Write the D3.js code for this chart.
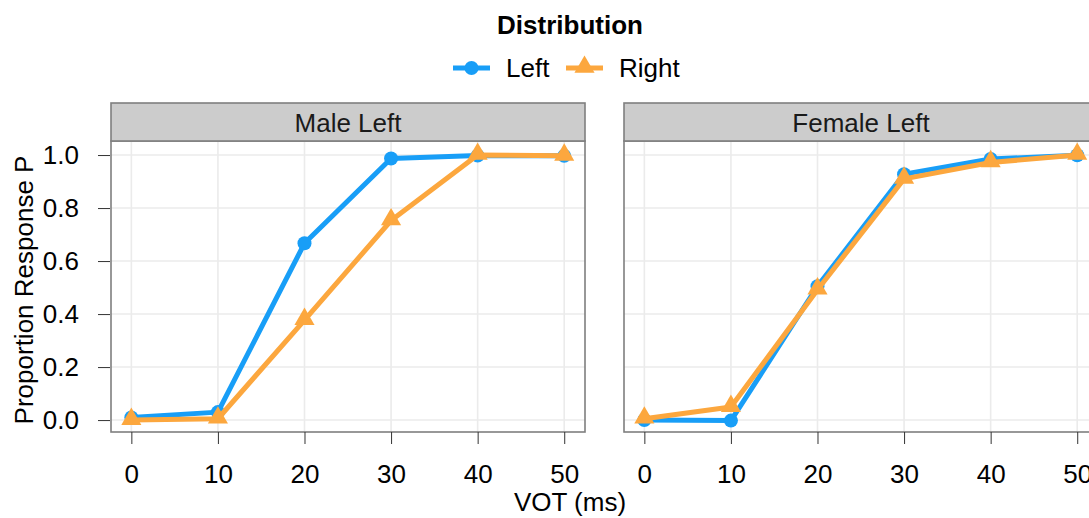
<!DOCTYPE html>
<html>
<head>
<meta charset="utf-8">
<script src="https://cdn.jsdelivr.net/npm/d3@7"></script>
<style>
  body { margin: 0; background: #fff; }
  svg { display: block; font-family: "Liberation Sans", Arial, sans-serif; }
</style>
</head>
<body>
<svg id="chart" width="1089" height="518"></svg>
<script>
// data
const vot = [0, 10, 20, 30, 40, 50];
const panels = ["Male Left", "Female Left"];
const seriesNames = ["Left", "Right"];
const maleLeftDist = [0.01, 0.03, 0.667, 0.987, 0.998, 0.997];
const maleRightDist = [0.0, 0.005, 0.377, 0.753, 1.0, 0.997];
const femaleLeftDist = [0.0, -0.002, 0.505, 0.928, 0.985, 0.999];
const femaleRightDist = [0.005, 0.049, 0.492, 0.91, 0.972, 1.0];
const yTicks = [0, 0.2, 0.4, 0.6, 0.8, 1.0];

const panelValues = [
    [maleLeftDist, maleRightDist],
    [femaleLeftDist, femaleRightDist]
];
const colors = ["#189ef7", "#fca73e"];
const fontSize = 26;

const svg = d3.select("#chart");

const panelW = 474, panelTop = 141, panelBottom = 432, stripTop = 103;
const panelLefts = [111, 624];

const y = d3.scaleLinear().domain([-0.045, 1.053]).range([panelBottom, panelTop]);

const triangle = d3.symbol().type(d3.symbolTriangle).size(175);

panels.forEach((name, pi) => {
    const left = panelLefts[pi];
    const x = d3.scaleLinear().domain([-2.35, 52.4]).range([left, left + panelW]);
    const g = svg.append("g");

    // grid
    g.selectAll(".gx").data(vot).enter().append("line")
        .attr("x1", d => x(d)).attr("x2", d => x(d))
        .attr("y1", panelTop).attr("y2", panelBottom)
        .attr("stroke", "#ebebeb").attr("stroke-width", 1.6);
    g.selectAll(".gy").data(yTicks).enter().append("line")
        .attr("x1", left).attr("x2", left + panelW)
        .attr("y1", d => y(d)).attr("y2", d => y(d))
        .attr("stroke", "#ebebeb").attr("stroke-width", 1.6);

    // series
    panelValues[pi].forEach((vals, si) => {
        const pts = vot.map((v, i) => [v, vals[i]]);
        g.append("path")
            .datum(pts)
            .attr("fill", "none")
            .attr("stroke", colors[si])
            .attr("stroke-width", 5)
            .attr("stroke-linejoin", "round")
            .attr("d", d3.line().x(d => x(d[0])).y(d => y(d[1])));
        if (si === 0) {
            g.selectAll(".pt" + si).data(pts).enter().append("circle")
                .attr("cx", d => x(d[0])).attr("cy", d => y(d[1]))
                .attr("r", 7).attr("fill", colors[si]);
        } else {
            g.selectAll(".pt" + si).data(pts).enter().append("path")
                .attr("d", triangle)
                .attr("transform", d => `translate(${x(d[0])},${y(d[1]) - 1})`)
                .attr("fill", colors[si]);
        }
    });

    // panel border
    g.append("rect")
        .attr("x", left).attr("y", panelTop)
        .attr("width", panelW).attr("height", panelBottom - panelTop)
        .attr("fill", "none").attr("stroke", "#7f7f7f").attr("stroke-width", 1.6);

    // strip
    g.append("rect")
        .attr("x", left).attr("y", stripTop)
        .attr("width", panelW).attr("height", panelTop - stripTop)
        .attr("fill", "#cccccc").attr("stroke", "#7f7f7f").attr("stroke-width", 1.6);
    g.append("text")
        .attr("x", left + panelW / 2).attr("y", 132)
        .attr("text-anchor", "middle").attr("font-size", fontSize)
        .attr("fill", "#1a1a1a").text(name);

    // x axis
    const xAxis = d3.axisBottom(x).tickValues(vot).tickSize(12).tickPadding(21);
    const ax = g.append("g").attr("transform", `translate(0,${panelBottom})`).call(xAxis);
    ax.select(".domain").remove();
    ax.selectAll(".tick line").attr("stroke", "#333").attr("stroke-width", 1);
    ax.selectAll(".tick text").attr("font-size", fontSize).attr("fill", "#000")
        .attr("font-family", "Liberation Sans, Arial, sans-serif");

    if (pi === 0) {
        const yAxis = d3.axisLeft(y).tickValues(yTicks).tickFormat(d3.format(".1f")).tickSize(12).tickPadding(19);
        const ay = g.append("g").attr("transform", `translate(${left - 1},0)`).call(yAxis);
        ay.select(".domain").remove();
        ay.selectAll(".tick line").attr("stroke", "#333").attr("stroke-width", 1);
        ay.selectAll(".tick text").attr("font-size", fontSize).attr("fill", "#000")
            .attr("font-family", "Liberation Sans, Arial, sans-serif");
    }
});

// axis titles
svg.append("text")
    .attr("x", 570).attr("y", 511)
    .attr("text-anchor", "middle").attr("font-size", fontSize)
    .text("VOT (ms)");
svg.append("text")
    .attr("transform", "translate(33,290) rotate(-90)")
    .attr("text-anchor", "middle").attr("font-size", fontSize)
    .text("Proportion Response P");

// legend
svg.append("text")
    .attr("x", 570).attr("y", 34)
    .attr("text-anchor", "middle").attr("font-size", fontSize).attr("font-weight", "bold")
    .text("Distribution");

const legendX = [453, 566];
seriesNames.forEach((s, i) => {
    const lg = svg.append("g").attr("transform", `translate(${legendX[i]},68)`);
    lg.append("line").attr("x1", 0).attr("x2", 37).attr("y1", 0).attr("y2", 0)
        .attr("stroke", colors[i]).attr("stroke-width", 5);
    if (i === 0) {
        lg.append("circle").attr("cx", 18.5).attr("cy", 0).attr("r", 7).attr("fill", colors[i]);
    } else {
        lg.append("path").attr("d", triangle).attr("transform", "translate(18.5,-1)").attr("fill", colors[i]);
    }
    lg.append("text").attr("x", 53).attr("y", 9)
        .attr("font-size", fontSize).attr("fill", "#000").text(s);
});
</script>
</body>
</html>
